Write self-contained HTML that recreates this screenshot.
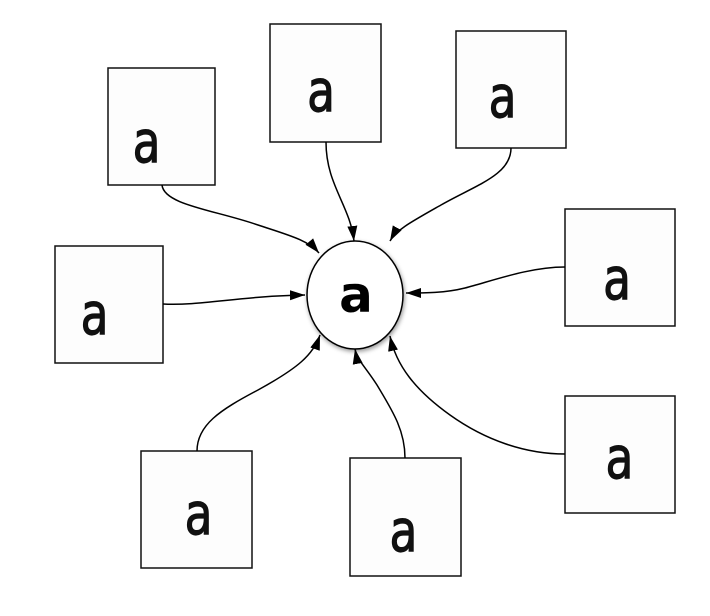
<!DOCTYPE html>
<html><head><style>
body{margin:0;background:#fff;}
svg{display:block}
.m{font-family:"DejaVu Sans Mono","Liberation Mono",monospace;font-size:58px;fill:#111}
</style></head><body>
<svg width="710" height="616" viewBox="0 0 710 616" xmlns="http://www.w3.org/2000/svg">
<defs>
<marker id="ar" markerWidth="16" markerHeight="12" refX="15" refY="6" orient="auto" markerUnits="userSpaceOnUse">
<path d="M0,1 L15,6 L0,11 Z" fill="#000"/>
</marker>
<filter id="sh" x="-30%" y="-30%" width="160%" height="160%"><feDropShadow dx="1" dy="2" stdDeviation="2" flood-opacity="0.4"/></filter>
</defs>
<g fill="#fdfdfd" stroke="#111" stroke-width="1.5">
<rect x="108" y="68" width="107" height="117"/>
<rect x="270" y="24" width="111" height="118"/>
<rect x="456" y="31" width="110" height="117"/>
<rect x="55" y="246" width="108" height="117"/>
<rect x="565" y="209" width="110" height="117"/>
<rect x="565" y="396" width="110" height="117"/>
<rect x="141" y="451" width="111" height="117"/>
<rect x="350" y="458" width="111" height="118"/>
</g>
<g class="m" text-anchor="middle" transform="scale(0.8,1)" stroke="#111" stroke-width="1.2">
<text x="183" y="162">a</text>
<text x="401" y="111">a</text>
<text x="628" y="117">a</text>
<text x="118" y="334">a</text>
<text x="771" y="299">a</text>
<text x="774" y="478">a</text>
<text x="248" y="534">a</text>
<text x="504" y="551">a</text>
</g>
<g fill="none" stroke="#000" stroke-width="1.5" marker-end="url(#ar)">
<path d="M162,185 C164,205 215,210 258,225 C288,235 308,240 319,253"/>
<path d="M326,142 C326,185 350,205 354,241"/>
<path d="M511,148 C511,175 476,185 441,205 C411,222 396,230 390,241"/>
<path d="M163,304 C200,306 240,296 305,295"/>
<path d="M565,267 C530,267 495,280 465,288 C445,293 425,293 406,293"/>
<path d="M565,454 C525,454 485,440 450,415 C415,390 396,365 390,336"/>
<path d="M197,451 C197,425 220,410 258,390 C298,368 313,355 320,335"/>
<path d="M405,458 C405,430 392,410 377,385 C364,365 357,360 355,349"/>
</g>
<ellipse cx="355" cy="295" rx="48" ry="54" fill="#fff" stroke="#000" stroke-width="1.5" filter="url(#sh)"/>
<text x="356" y="312" text-anchor="middle" style="font-family:'DejaVu Sans',sans-serif;font-weight:bold;font-size:50px">a</text>
</svg>
</body></html>
